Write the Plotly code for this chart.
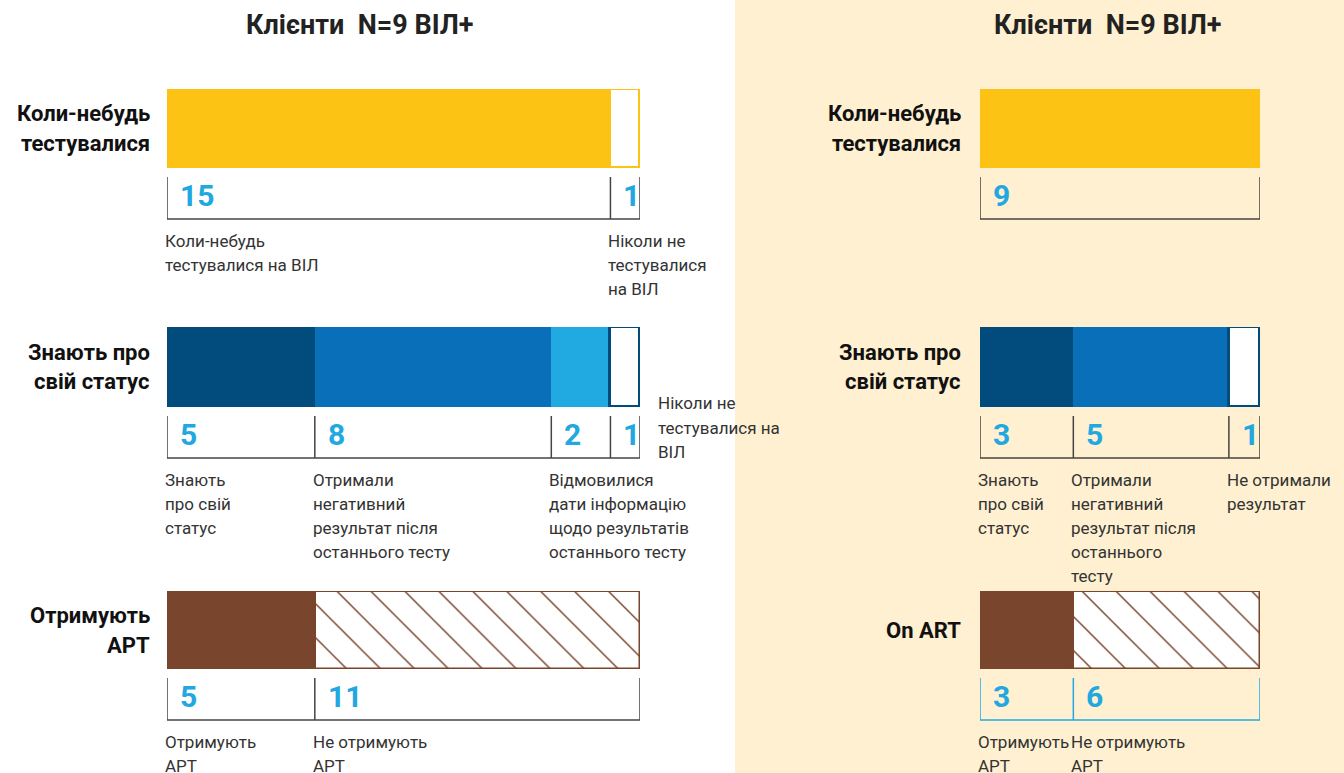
import plotly.graph_objects as go

W, H = 1344, 773

# ---------------- data ----------------
panel_titles = ["Клієнти  N=9 ВІЛ+", "Клієнти  N=9 ВІЛ+"]

left_row_titles = ["Коли-небудь<br>тестувалися", "Знають про<br>свій статус", "Отримують<br>АРТ"]
right_row_titles = ["Коли-небудь<br>тестувалися", "Знають про<br>свій статус", "On ART"]

left_tested_values = [15, 1]
left_tested_labels = ["Коли-небудь<br>тестувалися на ВІЛ", "Ніколи не<br>тестувалися<br>на ВІЛ"]
left_status_values = [5, 8, 2, 1]
left_status_labels = ["Знають<br>про свій<br>статус",
                      "Отримали<br>негативний<br>результат після<br>останнього тесту",
                      "Відмовилися<br>дати інформацію<br>щодо результатів<br>останнього тесту",
                      "Ніколи не<br>тестувалися на<br>ВІЛ"]
left_art_values = [5, 11]
left_art_labels = ["Отримують<br>АРТ", "Не отримують<br>АРТ"]

right_tested_values = [9]
right_tested_labels = [""]
right_status_values = [3, 5, 1]
right_status_labels = ["Знають<br>про свій<br>статус",
                       "Отримали<br>негативний<br>результат після<br>останнього<br>тесту",
                       "Не отримали<br>результат"]
right_art_values = [3, 6]
right_art_labels = ["Отримують<br>АРТ", "Не отримують<br>АРТ"]

# ---------------- styles / layout ----------------
YELLOW = "#FDC314"
NAVY = "#024B7D"
BLUE = "#0A6FB9"
SKY = "#21A9E1"
BROWN = "#7A452D"
GREY = "#454545"
NUM = "#22A8E0"
TEXT = "#333333"
BG2 = "#FEF0D0"
FONT = "Roboto, 'Noto Sans', sans-serif"

left_styles = [
    [("fill", YELLOW), ("outline", YELLOW)],
    [("fill", NAVY), ("fill", BLUE), ("fill", SKY), ("outline", NAVY)],
    [("fill", BROWN), ("hatch", BROWN)],
]
right_styles = [
    [("fill", YELLOW)],
    [("fill", NAVY), ("fill", BLUE), ("outline", NAVY)],
    [("fill", BROWN), ("hatch", BROWN)],
]
left_place = [["below", "below"], ["below", "below", "below", "side"], ["below", "below"]]
right_place = [["below"], ["below", "below", "below"], ["below", "below"]]

panels = [
    dict(title=panel_titles[0], title_x=360, rows=left_row_titles,
         values=[left_tested_values, left_status_values, left_art_values],
         labels=[left_tested_labels, left_status_labels, left_art_labels],
         styles=left_styles, place=left_place, x0=167, x1=640, rlab_x=152,
         bracket=[GREY, GREY, GREY]),
    dict(title=panel_titles[1], title_x=1108, rows=right_row_titles,
         values=[right_tested_values, right_status_values, right_art_values],
         labels=[right_tested_labels, right_status_labels, right_art_labels],
         styles=right_styles, place=right_place, x0=980, x1=1260, rlab_x=963,
         bracket=[GREY, GREY, SKY]),
]
row_y = [(89, 168), (327, 407), (591, 669)]


def px(x):
    return x / W


def py(y):
    return 1 - y / H


fig = go.Figure()
annotations = []
shapes = [dict(type="rect", xref="paper", yref="paper", x0=px(735), x1=1, y0=0, y1=1,
               fillcolor=BG2, line=dict(width=0), layer="below")]
layout_axes = {}

k = 0
for p in panels:
    annotations.append(dict(text="<b>%s</b>" % p["title"], xref="paper", yref="paper",
                            x=px(p["title_x"]), y=py(25), xanchor="center", yanchor="middle",
                            showarrow=False, font=dict(family=FONT, size=27, color="#222222")))
    for r in range(3):
        k += 1
        xa = "x" if k == 1 else "x%d" % k
        ya = "y" if k == 1 else "y%d" % k
        vals = p["values"][r]
        total = sum(vals)
        top, bot = row_y[r]
        layout_axes["xaxis" if k == 1 else "xaxis%d" % k] = dict(
            domain=[px(p["x0"]), px(p["x1"])], range=[0, total], visible=False,
            anchor=ya, fixedrange=True)
        layout_axes["yaxis" if k == 1 else "yaxis%d" % k] = dict(
            domain=[py(bot), py(top)], range=[-0.5, 0.5], visible=False,
            anchor=xa, fixedrange=True)

        starts = []
        acc = 0
        for v in vals:
            starts.append(acc)
            acc += v

        for v, s, (kind, col) in zip(vals, starts, p["styles"][r]):
            if kind == "fill":
                marker = dict(color=col, line=dict(width=0))
            elif kind == "outline":
                marker = dict(color="white", line=dict(color=col, width=3))
            else:
                marker = dict(color="white", line=dict(color=col, width=2.5),
                              pattern=dict(shape="\\", fgcolor=col, bgcolor="white",
                                           fgopacity=1, size=24, solidity=0.06))
            fig.add_trace(go.Bar(x=[v], base=[s], y=[0], orientation="h", width=1,
                                 marker=marker, xaxis=xa, yaxis=ya, showlegend=False,
                                 hoverinfo="skip"))

        # bracket
        bc = p["bracket"][r]
        bt, bb = bot + 9, bot + 51
        for b in starts + [total]:
            shapes.append(dict(type="line", xref=xa, yref="paper", x0=b, x1=b,
                               y0=py(bt), y1=py(bb), line=dict(color=bc, width=1.5)))
        shapes.append(dict(type="line", xref=xa, yref="paper", x0=0, x1=total,
                           y0=py(bb), y1=py(bb), line=dict(color=bc, width=1.5)))

        # numbers
        for v, s in zip(vals, starts):
            annotations.append(dict(text="<b>%d</b>" % v, xref=xa, yref="paper", x=s, xshift=11,
                                    y=py(bot + 27), xanchor="left", yanchor="middle",
                                    showarrow=False,
                                    font=dict(family=FONT, size=30, color=NUM)))

        # category labels
        for lab, s, pl in zip(p["labels"][r], starts, p["place"][r]):
            if not lab:
                continue
            for i, line in enumerate(lab.split("<br>")):
                if pl == "below":
                    xx, xs, yy = s, -4, bot + 73 + 24 * i
                else:
                    xx, xs, yy = total, 16, bot - 4 + 24.5 * i
                annotations.append(dict(text=line, xref=xa, yref="paper", x=xx, xshift=xs,
                                        y=py(yy), xanchor="left", yanchor="middle",
                                        showarrow=False,
                                        font=dict(family=FONT, size=17, color=TEXT)))

        # row titles
        lines = p["rows"][r].split("<br>")
        cy = (top + bot) / 2
        n = len(lines)
        for i, line in enumerate(lines):
            yy = cy + (i - (n - 1) / 2) * 30
            annotations.append(dict(text="<b>%s</b>" % line, xref="paper", yref="paper",
                                    x=px(p["rlab_x"]), y=py(yy), xanchor="right",
                                    yanchor="middle", showarrow=False,
                                    font=dict(family=FONT, size=22, color="#111111")))

fig.update_layout(width=W, height=H, margin=dict(l=0, r=0, t=0, b=0),
                  paper_bgcolor="white", plot_bgcolor="rgba(0,0,0,0)",
                  barmode="overlay", bargap=0, showlegend=False,
                  annotations=annotations, shapes=shapes, **layout_axes)

fig.write_html("out.html", config={"displayModeBar": False},
               post_script="document.body.style.margin='0';document.body.style.overflow='hidden';")
